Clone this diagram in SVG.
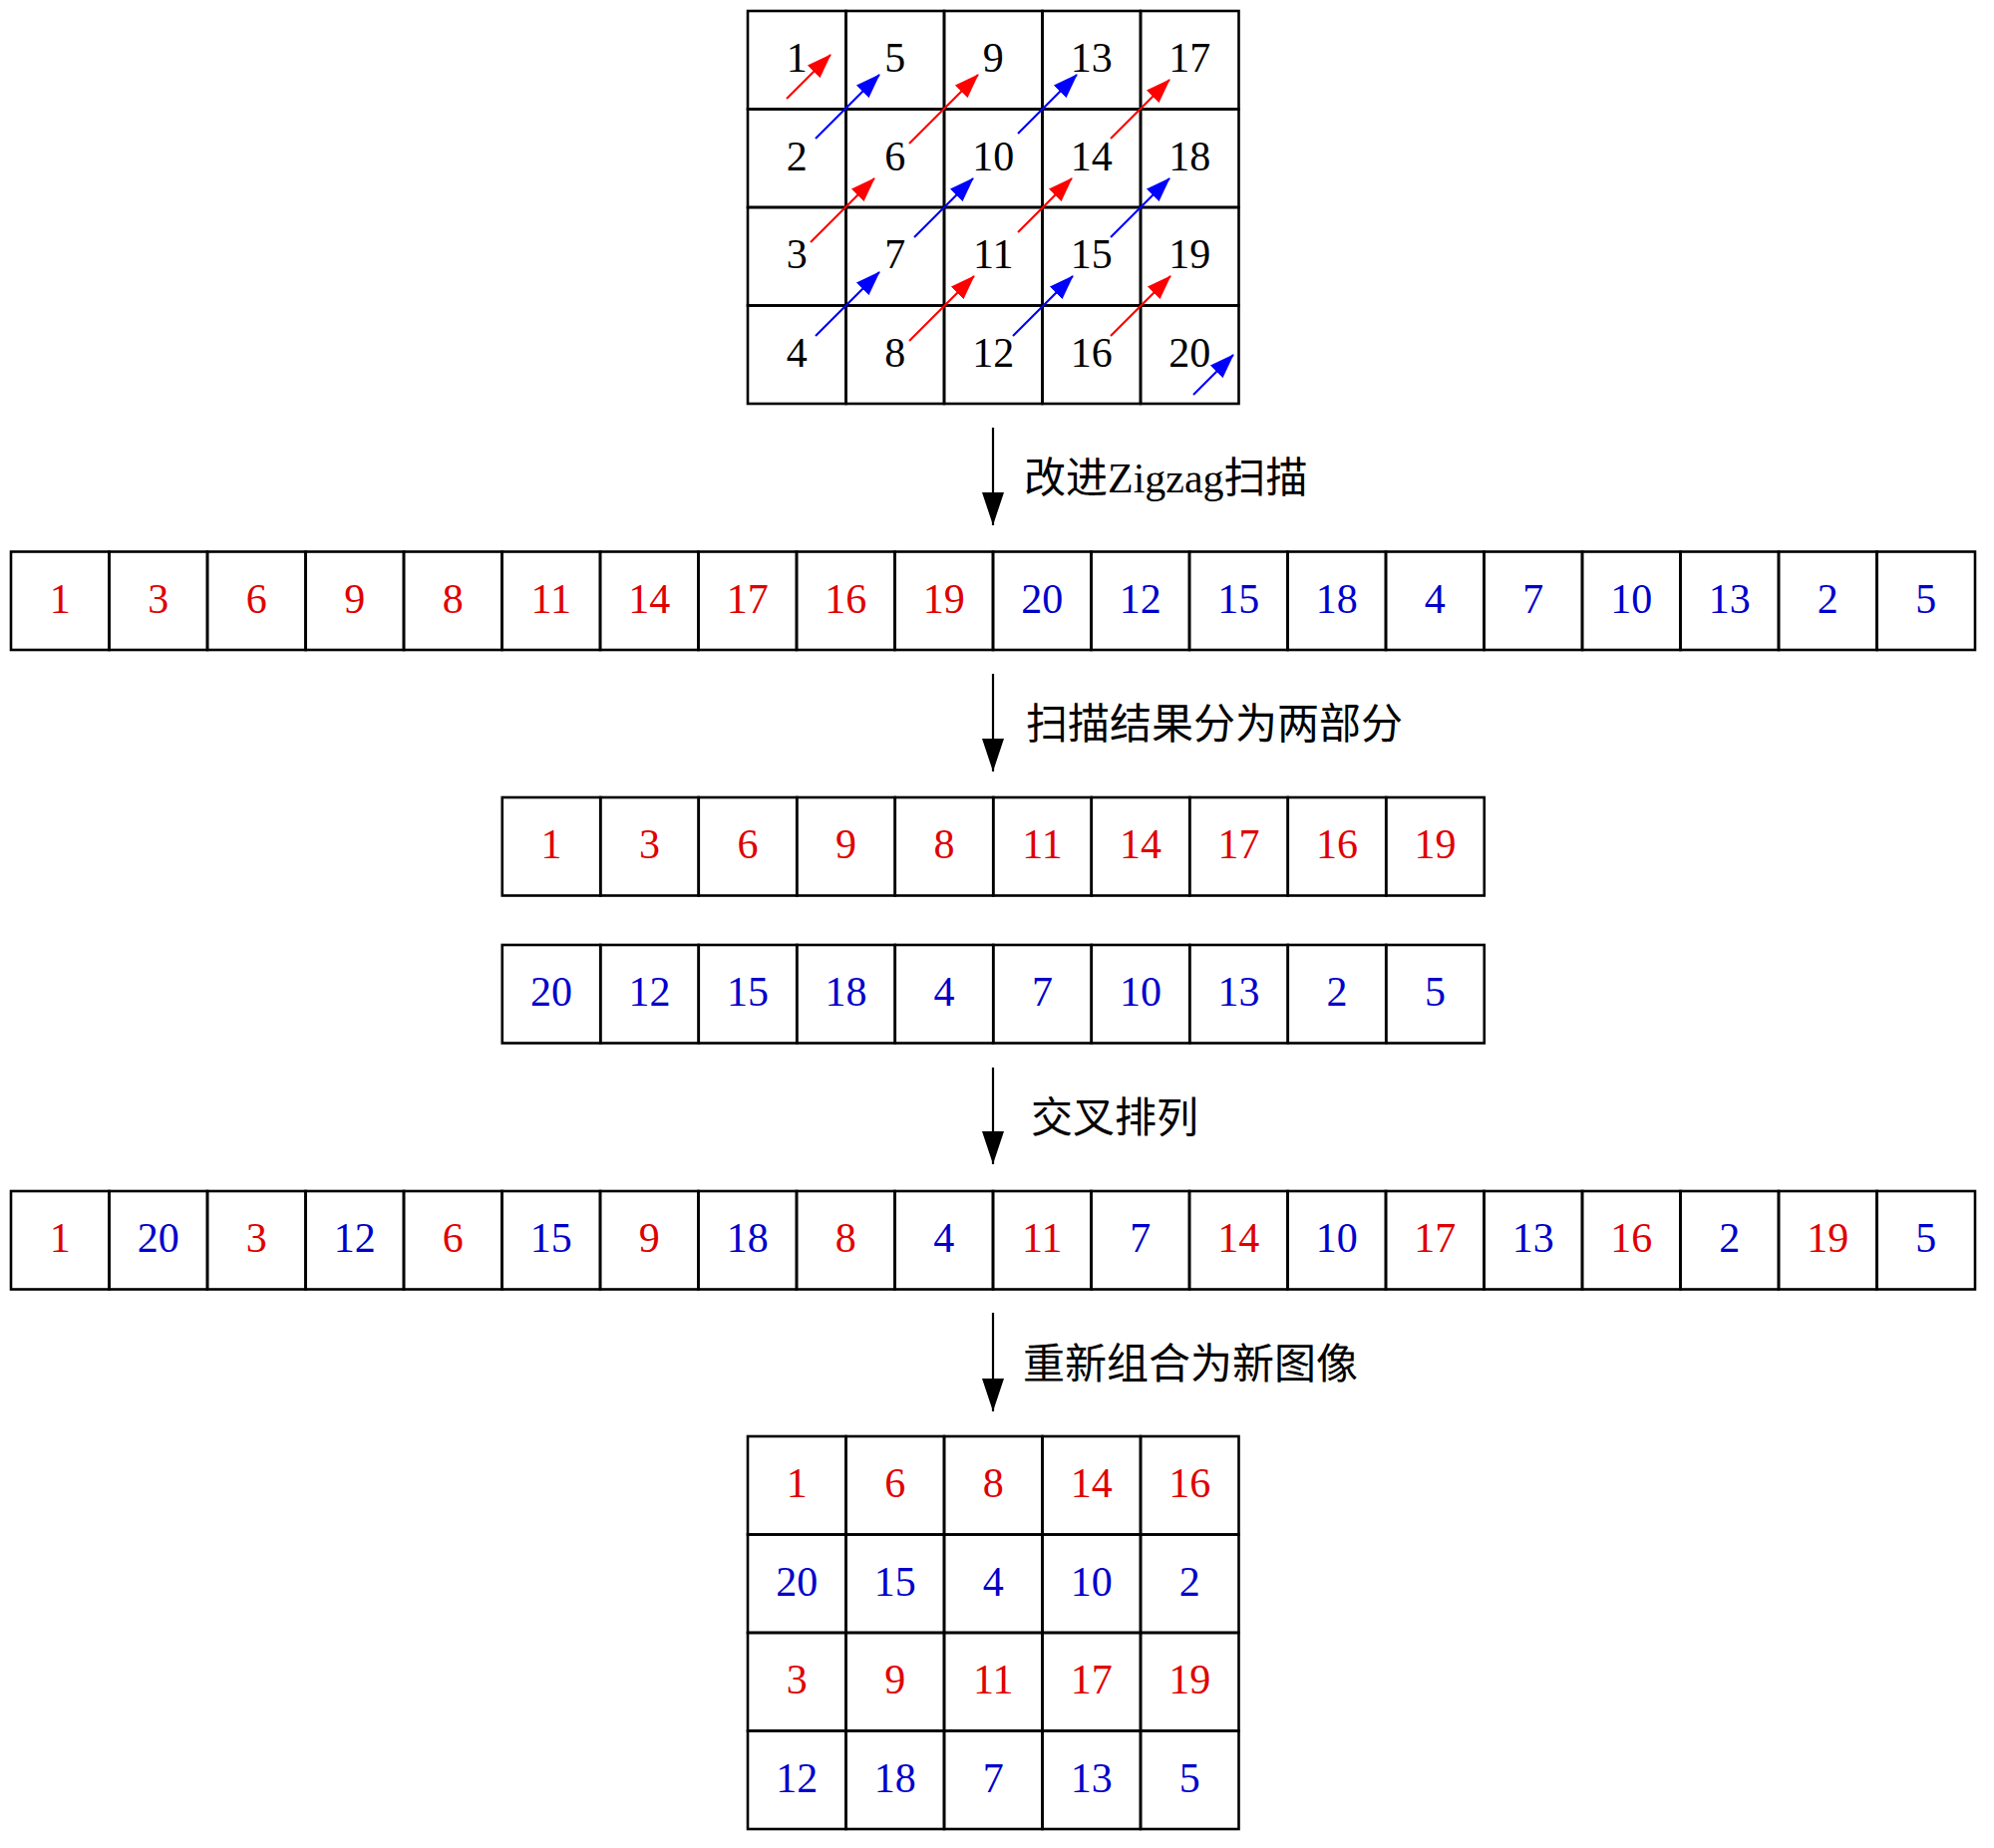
<svg xmlns="http://www.w3.org/2000/svg" width="2000" height="1854" viewBox="0 0 2000 1854">
<defs>
<style>
.cell{fill:none;stroke:#000;stroke-width:2.6}
.n{font-family:"Liberation Serif","Times New Roman",serif;font-size:42px;text-anchor:middle}
.k{fill:#000}
.r{fill:#e00000}
.b{fill:#0000cc}
.lbl{font-family:"Liberation Serif","Noto Sans CJK SC",serif;font-size:42px;fill:#000}
.flow{stroke:#000;stroke-width:2.2;fill:none;marker-end:url(#bigHead)}
.za{stroke:#f00;stroke-width:2.2;fill:none;marker-end:url(#redHead)}
.zb{stroke:#00f;stroke-width:2.2;fill:none;marker-end:url(#blueHead)}
</style>
<marker id="bigHead" markerUnits="userSpaceOnUse" markerWidth="34" markerHeight="22" refX="33" refY="11" orient="auto" viewBox="0 0 34 22">
<path d="M0,0 L33,11 L0,22 z" fill="#000"/>
</marker>
<marker id="redHead" markerUnits="userSpaceOnUse" markerWidth="25" markerHeight="18" refX="24" refY="9" orient="auto" viewBox="0 0 25 18">
<path d="M0,0 L25,9 L0,18 z" fill="#f00"/>
</marker>
<marker id="blueHead" markerUnits="userSpaceOnUse" markerWidth="25" markerHeight="18" refX="24" refY="9" orient="auto" viewBox="0 0 25 18">
<path d="M0,0 L25,9 L0,18 z" fill="#00f"/>
</marker>
</defs>
<rect width="2000" height="1854" fill="#fff"/>

<g id="source-grid">
<rect class="cell" x="750" y="11" width="98.5" height="98.5"/><rect class="cell" x="848.5" y="11" width="98.5" height="98.5"/><rect class="cell" x="947" y="11" width="98.5" height="98.5"/><rect class="cell" x="1045.5" y="11" width="98.5" height="98.5"/><rect class="cell" x="1144" y="11" width="98.5" height="98.5"/>
<rect class="cell" x="750" y="109.5" width="98.5" height="98.5"/><rect class="cell" x="848.5" y="109.5" width="98.5" height="98.5"/><rect class="cell" x="947" y="109.5" width="98.5" height="98.5"/><rect class="cell" x="1045.5" y="109.5" width="98.5" height="98.5"/><rect class="cell" x="1144" y="109.5" width="98.5" height="98.5"/>
<rect class="cell" x="750" y="208" width="98.5" height="98.5"/><rect class="cell" x="848.5" y="208" width="98.5" height="98.5"/><rect class="cell" x="947" y="208" width="98.5" height="98.5"/><rect class="cell" x="1045.5" y="208" width="98.5" height="98.5"/><rect class="cell" x="1144" y="208" width="98.5" height="98.5"/>
<rect class="cell" x="750" y="306.5" width="98.5" height="98.5"/><rect class="cell" x="848.5" y="306.5" width="98.5" height="98.5"/><rect class="cell" x="947" y="306.5" width="98.5" height="98.5"/><rect class="cell" x="1045.5" y="306.5" width="98.5" height="98.5"/><rect class="cell" x="1144" y="306.5" width="98.5" height="98.5"/>
<g class="n k">
<text x="799.25" y="72">1</text><text x="897.75" y="72">5</text><text x="996.25" y="72">9</text><text x="1094.75" y="72">13</text><text x="1193.25" y="72">17</text>
<text x="799.25" y="170.5">2</text><text x="897.75" y="170.5">6</text><text x="996.25" y="170.5">10</text><text x="1094.75" y="170.5">14</text><text x="1193.25" y="170.5">18</text>
<text x="799.25" y="269">3</text><text x="897.75" y="269">7</text><text x="996.25" y="269">11</text><text x="1094.75" y="269">15</text><text x="1193.25" y="269">19</text>
<text x="799.25" y="367.5">4</text><text x="897.75" y="367.5">8</text><text x="996.25" y="367.5">12</text><text x="1094.75" y="367.5">16</text><text x="1193.25" y="367.5">20</text>
</g>
<g id="zigzag-arrows">
<line class="za" x1="789" y1="99" x2="833" y2="55"/>
<line class="zb" x1="818" y1="139" x2="882" y2="75"/>
<line class="za" x1="912" y1="144" x2="981" y2="75"/>
<line class="zb" x1="1021" y1="134" x2="1080" y2="75"/>
<line class="za" x1="1114" y1="139" x2="1173" y2="80"/>
<line class="za" x1="813" y1="243" x2="877" y2="179"/>
<line class="zb" x1="917" y1="238" x2="976" y2="179"/>
<line class="za" x1="1021" y1="233" x2="1075" y2="179"/>
<line class="zb" x1="1114" y1="238" x2="1173" y2="179"/>
<line class="zb" x1="818" y1="337" x2="882" y2="273"/>
<line class="za" x1="912" y1="342" x2="977" y2="277"/>
<line class="zb" x1="1016" y1="337" x2="1076" y2="277"/>
<line class="za" x1="1114" y1="337" x2="1174" y2="277"/>
<line class="zb" x1="1197" y1="396" x2="1237" y2="356"/>
</g>
</g>

<g id="scan-sequence">
<rect class="cell" x="11" y="553.5" width="98.5" height="98.5"/><rect class="cell" x="109.5" y="553.5" width="98.5" height="98.5"/><rect class="cell" x="208" y="553.5" width="98.5" height="98.5"/><rect class="cell" x="306.5" y="553.5" width="98.5" height="98.5"/><rect class="cell" x="405" y="553.5" width="98.5" height="98.5"/><rect class="cell" x="503.5" y="553.5" width="98.5" height="98.5"/><rect class="cell" x="602" y="553.5" width="98.5" height="98.5"/><rect class="cell" x="700.5" y="553.5" width="98.5" height="98.5"/><rect class="cell" x="799" y="553.5" width="98.5" height="98.5"/><rect class="cell" x="897.5" y="553.5" width="98.5" height="98.5"/>
<rect class="cell" x="996" y="553.5" width="98.5" height="98.5"/><rect class="cell" x="1094.5" y="553.5" width="98.5" height="98.5"/><rect class="cell" x="1193" y="553.5" width="98.5" height="98.5"/><rect class="cell" x="1291.5" y="553.5" width="98.5" height="98.5"/><rect class="cell" x="1390" y="553.5" width="98.5" height="98.5"/><rect class="cell" x="1488.5" y="553.5" width="98.5" height="98.5"/><rect class="cell" x="1587" y="553.5" width="98.5" height="98.5"/><rect class="cell" x="1685.5" y="553.5" width="98.5" height="98.5"/><rect class="cell" x="1784" y="553.5" width="98.5" height="98.5"/><rect class="cell" x="1882.5" y="553.5" width="98.5" height="98.5"/>
<g class="n r">
<text x="60.25" y="614.5">1</text><text x="158.75" y="614.5">3</text><text x="257.25" y="614.5">6</text><text x="355.75" y="614.5">9</text><text x="454.25" y="614.5">8</text><text x="552.75" y="614.5">11</text><text x="651.25" y="614.5">14</text><text x="749.75" y="614.5">17</text><text x="848.25" y="614.5">16</text><text x="946.75" y="614.5">19</text>
</g>
<g class="n b">
<text x="1045.25" y="614.5">20</text><text x="1143.75" y="614.5">12</text><text x="1242.25" y="614.5">15</text><text x="1340.75" y="614.5">18</text><text x="1439.25" y="614.5">4</text><text x="1537.75" y="614.5">7</text><text x="1636.25" y="614.5">10</text><text x="1734.75" y="614.5">13</text><text x="1833.25" y="614.5">2</text><text x="1931.75" y="614.5">5</text>
</g>
</g>

<g id="red-part">
<rect class="cell" x="503.75" y="800" width="98.5" height="98.5"/><rect class="cell" x="602.25" y="800" width="98.5" height="98.5"/><rect class="cell" x="700.75" y="800" width="98.5" height="98.5"/><rect class="cell" x="799.25" y="800" width="98.5" height="98.5"/><rect class="cell" x="897.75" y="800" width="98.5" height="98.5"/><rect class="cell" x="996.25" y="800" width="98.5" height="98.5"/><rect class="cell" x="1094.75" y="800" width="98.5" height="98.5"/><rect class="cell" x="1193.25" y="800" width="98.5" height="98.5"/><rect class="cell" x="1291.75" y="800" width="98.5" height="98.5"/><rect class="cell" x="1390.25" y="800" width="98.5" height="98.5"/>
<g class="n r">
<text x="553" y="861">1</text><text x="651.5" y="861">3</text><text x="750" y="861">6</text><text x="848.5" y="861">9</text><text x="947" y="861">8</text><text x="1045.5" y="861">11</text><text x="1144" y="861">14</text><text x="1242.5" y="861">17</text><text x="1341" y="861">16</text><text x="1439.5" y="861">19</text>
</g>
</g>

<g id="blue-part">
<rect class="cell" x="503.75" y="948" width="98.5" height="98.5"/><rect class="cell" x="602.25" y="948" width="98.5" height="98.5"/><rect class="cell" x="700.75" y="948" width="98.5" height="98.5"/><rect class="cell" x="799.25" y="948" width="98.5" height="98.5"/><rect class="cell" x="897.75" y="948" width="98.5" height="98.5"/><rect class="cell" x="996.25" y="948" width="98.5" height="98.5"/><rect class="cell" x="1094.75" y="948" width="98.5" height="98.5"/><rect class="cell" x="1193.25" y="948" width="98.5" height="98.5"/><rect class="cell" x="1291.75" y="948" width="98.5" height="98.5"/><rect class="cell" x="1390.25" y="948" width="98.5" height="98.5"/>
<g class="n b">
<text x="553" y="1009">20</text><text x="651.5" y="1009">12</text><text x="750" y="1009">15</text><text x="848.5" y="1009">18</text><text x="947" y="1009">4</text><text x="1045.5" y="1009">7</text><text x="1144" y="1009">10</text><text x="1242.5" y="1009">13</text><text x="1341" y="1009">2</text><text x="1439.5" y="1009">5</text>
</g>
</g>

<g id="interleaved-sequence">
<rect class="cell" x="11" y="1195" width="98.5" height="98.5"/><rect class="cell" x="109.5" y="1195" width="98.5" height="98.5"/><rect class="cell" x="208" y="1195" width="98.5" height="98.5"/><rect class="cell" x="306.5" y="1195" width="98.5" height="98.5"/><rect class="cell" x="405" y="1195" width="98.5" height="98.5"/><rect class="cell" x="503.5" y="1195" width="98.5" height="98.5"/><rect class="cell" x="602" y="1195" width="98.5" height="98.5"/><rect class="cell" x="700.5" y="1195" width="98.5" height="98.5"/><rect class="cell" x="799" y="1195" width="98.5" height="98.5"/><rect class="cell" x="897.5" y="1195" width="98.5" height="98.5"/>
<rect class="cell" x="996" y="1195" width="98.5" height="98.5"/><rect class="cell" x="1094.5" y="1195" width="98.5" height="98.5"/><rect class="cell" x="1193" y="1195" width="98.5" height="98.5"/><rect class="cell" x="1291.5" y="1195" width="98.5" height="98.5"/><rect class="cell" x="1390" y="1195" width="98.5" height="98.5"/><rect class="cell" x="1488.5" y="1195" width="98.5" height="98.5"/><rect class="cell" x="1587" y="1195" width="98.5" height="98.5"/><rect class="cell" x="1685.5" y="1195" width="98.5" height="98.5"/><rect class="cell" x="1784" y="1195" width="98.5" height="98.5"/><rect class="cell" x="1882.5" y="1195" width="98.5" height="98.5"/>
<g class="n">
<text class="r" x="60.25" y="1256">1</text><text class="b" x="158.75" y="1256">20</text><text class="r" x="257.25" y="1256">3</text><text class="b" x="355.75" y="1256">12</text><text class="r" x="454.25" y="1256">6</text><text class="b" x="552.75" y="1256">15</text><text class="r" x="651.25" y="1256">9</text><text class="b" x="749.75" y="1256">18</text><text class="r" x="848.25" y="1256">8</text><text class="b" x="946.75" y="1256">4</text>
<text class="r" x="1045.25" y="1256">11</text><text class="b" x="1143.75" y="1256">7</text><text class="r" x="1242.25" y="1256">14</text><text class="b" x="1340.75" y="1256">10</text><text class="r" x="1439.25" y="1256">17</text><text class="b" x="1537.75" y="1256">13</text><text class="r" x="1636.25" y="1256">16</text><text class="b" x="1734.75" y="1256">2</text><text class="r" x="1833.25" y="1256">19</text><text class="b" x="1931.75" y="1256">5</text>
</g>
</g>

<g id="new-image">
<rect class="cell" x="750" y="1441" width="98.5" height="98.5"/><rect class="cell" x="848.5" y="1441" width="98.5" height="98.5"/><rect class="cell" x="947" y="1441" width="98.5" height="98.5"/><rect class="cell" x="1045.5" y="1441" width="98.5" height="98.5"/><rect class="cell" x="1144" y="1441" width="98.5" height="98.5"/>
<rect class="cell" x="750" y="1539.5" width="98.5" height="98.5"/><rect class="cell" x="848.5" y="1539.5" width="98.5" height="98.5"/><rect class="cell" x="947" y="1539.5" width="98.5" height="98.5"/><rect class="cell" x="1045.5" y="1539.5" width="98.5" height="98.5"/><rect class="cell" x="1144" y="1539.5" width="98.5" height="98.5"/>
<rect class="cell" x="750" y="1638" width="98.5" height="98.5"/><rect class="cell" x="848.5" y="1638" width="98.5" height="98.5"/><rect class="cell" x="947" y="1638" width="98.5" height="98.5"/><rect class="cell" x="1045.5" y="1638" width="98.5" height="98.5"/><rect class="cell" x="1144" y="1638" width="98.5" height="98.5"/>
<rect class="cell" x="750" y="1736.5" width="98.5" height="98.5"/><rect class="cell" x="848.5" y="1736.5" width="98.5" height="98.5"/><rect class="cell" x="947" y="1736.5" width="98.5" height="98.5"/><rect class="cell" x="1045.5" y="1736.5" width="98.5" height="98.5"/><rect class="cell" x="1144" y="1736.5" width="98.5" height="98.5"/>
<g class="n r">
<text x="799.25" y="1502">1</text><text x="897.75" y="1502">6</text><text x="996.25" y="1502">8</text><text x="1094.75" y="1502">14</text><text x="1193.25" y="1502">16</text>
<text x="799.25" y="1699">3</text><text x="897.75" y="1699">9</text><text x="996.25" y="1699">11</text><text x="1094.75" y="1699">17</text><text x="1193.25" y="1699">19</text>
</g>
<g class="n b">
<text x="799.25" y="1600.5">20</text><text x="897.75" y="1600.5">15</text><text x="996.25" y="1600.5">4</text><text x="1094.75" y="1600.5">10</text><text x="1193.25" y="1600.5">2</text>
<text x="799.25" y="1797.5">12</text><text x="897.75" y="1797.5">18</text><text x="996.25" y="1797.5">7</text><text x="1094.75" y="1797.5">13</text><text x="1193.25" y="1797.5">5</text>
</g>
</g>

<g id="connectors">
<line class="flow" x1="996" y1="429" x2="996" y2="527"/>
<line class="flow" x1="996" y1="676" x2="996" y2="774"/>
<line class="flow" x1="996" y1="1071" x2="996" y2="1168"/>
<line class="flow" x1="996" y1="1317" x2="996" y2="1416"/>
<text class="lbl" x="1027" y="494">改进Zigzag扫描</text>
<text class="lbl" x="1029" y="741">扫描结果分为两部分</text>
<text class="lbl" x="1034" y="1136">交叉排列</text>
<text class="lbl" x="1026" y="1383">重新组合为新图像</text>
</g>
</svg>
